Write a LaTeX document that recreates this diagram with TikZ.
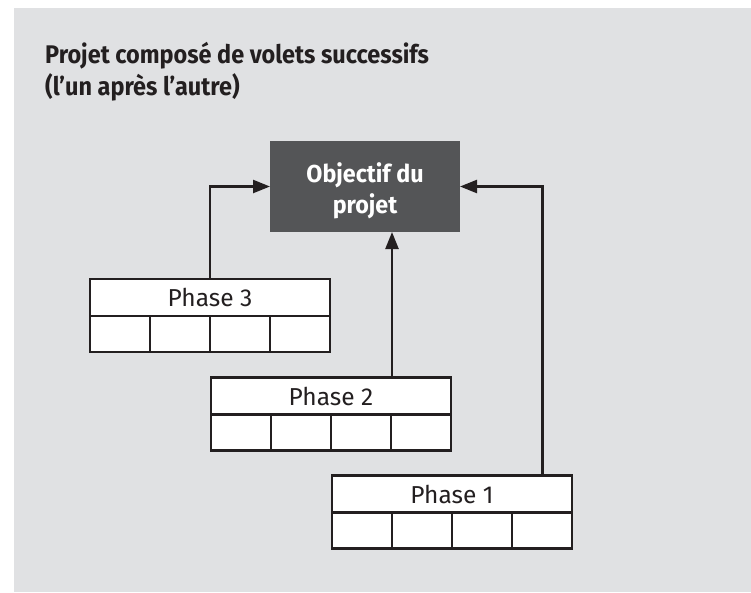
\documentclass[tikz,border=0pt]{standalone}
\usepackage{fontspec}
\setmainfont{Fira Sans}
\newfontfamily\titlefont[FakeStretch=0.92]{Fira Sans}
\newfontfamily\goalfont[FakeStretch=0.95]{Fira Sans}
\usetikzlibrary{arrows.meta,calc}
\definecolor{bggray}{HTML}{E0E1E3}
\definecolor{goalgray}{HTML}{545557}
\definecolor{linecol}{HTML}{231F20}
\tikzset{
  titletext/.style={anchor=base west, inner sep=0pt, text=linecol, font=\titlefont\bfseries\fontsize{25.5}{30}\selectfont},
  goal/.style={fill=goalgray, minimum width=190pt, minimum height=91pt, inner sep=0pt, outer sep=0pt},
  goaltext/.style={text=white, inner sep=0pt, align=center, font=\goalfont\bfseries\fontsize{24.5}{31}\selectfont},
  phasetop/.style={draw=linecol, fill=white, line width=2.4pt, minimum width=240pt, minimum height=37pt, inner sep=0pt, outer sep=0pt, text=linecol, font=\fontsize{24.5}{26}\selectfont},
  cell/.style={draw=linecol, fill=white, line width=2.4pt, minimum width=60pt, minimum height=36pt, inner sep=0pt, outer sep=0pt, anchor=north west},
  link/.style={draw=linecol, line width=2.4pt, -{Triangle[length=17pt,width=13pt]}},
}
\begin{document}
\begin{tikzpicture}[x=1pt,y=-1pt]
\useasboundingbox (0,0) rectangle (751,592);
\fill[white] (0,0) rectangle (751,592);
\fill[bggray] (14,8) rectangle (751,592);

\node[titletext] (t1) at (45,63) {Projet composé de volets successifs};
\node[titletext] (t2) at (45,95) {(l’un après l’autre)};

\node[goal] (goal) at (365,186.5) {};
\node[goaltext, yshift=-4pt] (goaltxt) at (goal.center) {Objectif du\\projet};

% Phase 3
\node[phasetop] (p3) at (210,297.5) {Phase 3};
\foreach \i in {0,1,2,3} \node[cell] (p3c\i) at ($(p3.south west)+(\i*60,0)$) {};
% Phase 2
\node[phasetop] (p2) at (331,396) {Phase 2};
\foreach \i in {0,1,2,3} \node[cell] (p2c\i) at ($(p2.south west)+(\i*60,0)$) {};
% Phase 1
\node[phasetop] (p1) at (452,494) {Phase 1};
\foreach \i in {0,1,2,3} \node[cell] (p1c\i) at ($(p1.south west)+(\i*60,0)$) {};

\coordinate (a3) at (210,0);
\coordinate (a2) at (392,0);
\coordinate (a1) at (542.5,0);
\draw[link] (a3 |- p3.north) |- (goal.west);
\draw[link] (a2 |- p2.north) -- (a2 |- goal.south);
\draw[link] (a1 |- p1.north) |- (goal.east);
\end{tikzpicture}
\end{document}
